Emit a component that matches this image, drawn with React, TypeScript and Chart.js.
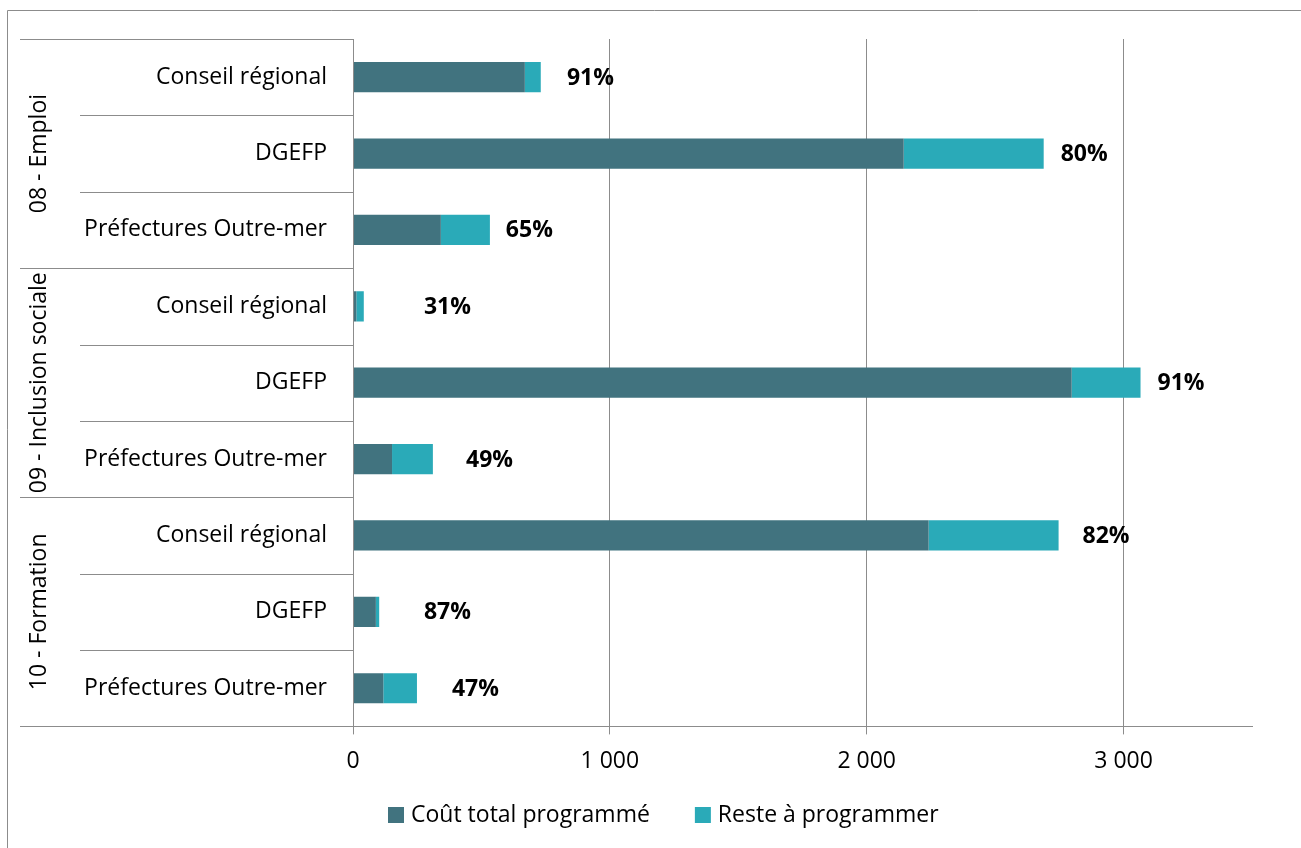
import React, { useEffect, useRef } from "react";
import { Chart, registerables } from "chart.js";

Chart.register(...registerables);

const groups = ["08 - Emploi", "09 - Inclusion sociale", "10 - Formation"];
const categories = [
  "Conseil régional", "DGEFP", "Préfectures Outre-mer",
  "Conseil régional", "DGEFP", "Préfectures Outre-mer",
  "Conseil régional", "DGEFP", "Préfectures Outre-mer",
];
const coutTotal = [669, 2144, 342, 13, 2798, 152, 2241, 89, 118];
const reste = [62, 545, 191, 29, 268, 159, 506, 13, 131];
const pctLabels = ["91%", "80%", "65%", "31%", "91%", "49%", "82%", "87%", "47%"];
const pctAnchor = [833, 2755, 595, 276, 3132, 440, 2840, 276, 385];
const xTicks = [0, 1000, 2000, 3000];

const FONT = "'Open Sans'";
const FS = 23;
const GRAY = "#8c8c8c";
const DARK = "#41737f";
const TEAL = "#2aaab8";

const decorPlugin = {
  id: "decor",
  afterDraw(chart: any) {
    const { ctx, chartArea } = chart;
    const xs = chart.scales.x;
    const top = chartArea.top;
    const bottom = chartArea.bottom;
    const left = chartArea.left;
    const n = categories.length;
    const h = (bottom - top) / n;
    ctx.save();
    ctx.strokeStyle = GRAY;
    ctx.lineWidth = 1;
    ctx.beginPath();
    ctx.moveTo(7.5, 900);
    ctx.lineTo(7.5, 10.5);
    ctx.lineTo(1400, 10.5);
    ctx.stroke();
    for (let k = 0; k <= n; k++) {
      const y = Math.round(top + k * h) + 0.5;
      const x0 = k % 3 === 0 ? 20 : 80;
      ctx.beginPath();
      ctx.moveTo(x0, y);
      ctx.lineTo(left, y);
      ctx.stroke();
    }
    ctx.beginPath();
    ctx.moveTo(Math.round(left) + 0.5, top);
    ctx.lineTo(Math.round(left) + 0.5, bottom);
    ctx.stroke();
    ctx.fillStyle = "#000";
    ctx.font = `${FS}px ${FONT}`;
    ctx.textAlign = "right";
    ctx.textBaseline = "middle";
    for (let i = 0; i < n; i++) {
      const y = top + (i + 0.5) * h;
      ctx.fillText(categories[i], left - 26, y);
    }
    for (let g = 0; g < groups.length; g++) {
      const yc = top + (g * 3 + 1.5) * h;
      ctx.save();
      ctx.translate(39, yc);
      ctx.rotate(-Math.PI / 2);
      ctx.textAlign = "center";
      ctx.textBaseline = "middle";
      ctx.fillText(groups[g], 0, 0);
      ctx.restore();
    }
    ctx.font = `bold ${FS}px ${FONT}`;
    ctx.textAlign = "left";
    for (let i = 0; i < n; i++) {
      const y = top + (i + 0.5) * h;
      ctx.fillText(pctLabels[i], xs.getPixelForValue(pctAnchor[i]), y + 1);
    }
    // legend
    ctx.font = `${FS}px ${FONT}`;
    const ds = chart.data.datasets;
    const box = 16, gapText = 7, gapItem = 45;
    const widths = ds.map((d: any) => ctx.measureText(d.label).width);
    const total = widths.reduce((a: number, w: number) => a + box + gapText + w, 0) + gapItem * (ds.length - 1);
    let x = Math.round(663 - total / 2);
    const ly = 815;
    ds.forEach((d: any, i: number) => {
      ctx.fillStyle = d.backgroundColor;
      ctx.fillRect(x, ly - 8, box, box);
      ctx.fillStyle = "#000";
      ctx.textAlign = "left";
      ctx.textBaseline = "middle";
      ctx.fillText(d.label, x + box + gapText, ly);
      x += box + gapText + widths[i] + gapItem;
    });
    ctx.restore();
  },
};

export default function App() {
  const ref = useRef<HTMLCanvasElement>(null);
  useEffect(() => {
    document.body.style.margin = "0";
    const chart = new Chart(ref.current!, {
      type: "bar",
      data: {
        labels: categories,
        datasets: [
          { label: "Coût total programmé", data: coutTotal, backgroundColor: DARK, categoryPercentage: 1, barPercentage: 0.395 },
          { label: "Reste à programmer", data: reste, backgroundColor: TEAL, categoryPercentage: 1, barPercentage: 0.395 },
        ],
      },
      options: {
        indexAxis: "y",
        responsive: false,
        animation: false,
        layout: { padding: { left: 353, right: 49, top: 39, bottom: 60 } },
        scales: {
          y: { display: false, stacked: true },
          x: {
            stacked: true,
            min: 0,
            max: 3500,
            afterBuildTicks: (axis: any) => {
              axis.ticks = xTicks.map((v) => ({ value: v }));
            },
            grid: { color: GRAY, tickLength: 8, lineWidth: 1 },
            border: { color: GRAY },
            ticks: {
              padding: 13,
              color: "#000",
              font: { family: FONT, size: FS },
              callback: (v: any) => Number(v).toLocaleString("fr-FR").replace(/\u202f|\u00a0/g, " "),
            },
          },
        },
        plugins: {
          legend: { display: false },
          tooltip: { enabled: false },
        },
      },
      plugins: [decorPlugin],
    });
    return () => chart.destroy();
  }, []);
  return <canvas ref={ref} width={1301} height={848} style={{ display: "block" }} />;
}
